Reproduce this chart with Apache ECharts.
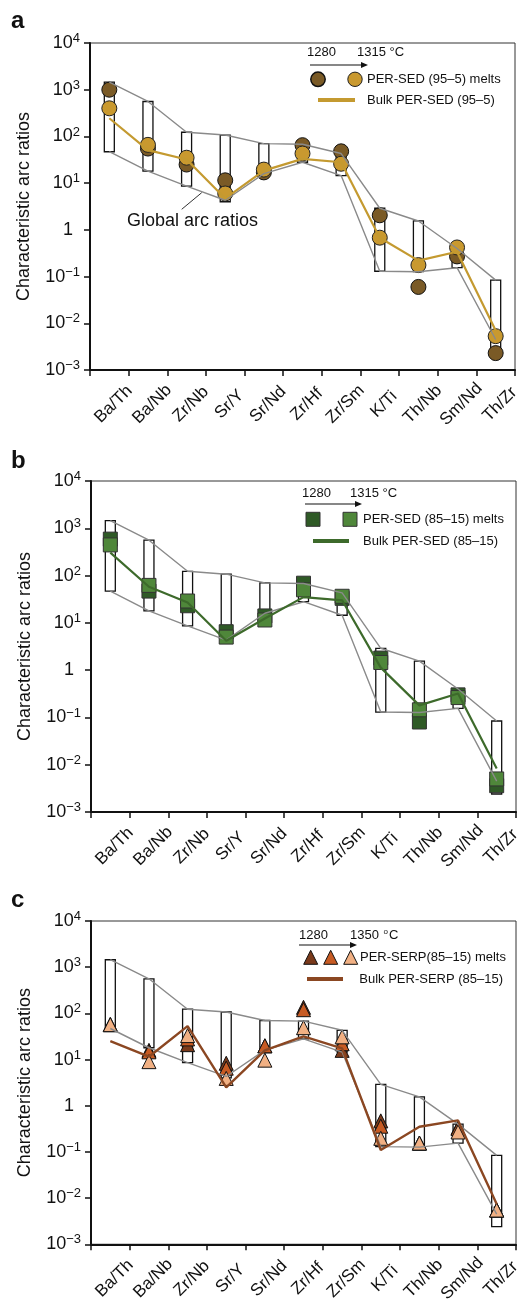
<!DOCTYPE html>
<html>
<head>
<meta charset="utf-8">
<script src="https://cdn.jsdelivr.net/npm/echarts@6/dist/echarts.min.js"></script>
<style>
html,body{margin:0;padding:0;background:#fff;}
#chart{width:528px;height:1305px;}
</style>
</head>
<body>
<div id="chart"></div>
<script>
// ---------- data ----------
const categories = ['Ba/Th','Ba/Nb','Zr/Nb','Sr/Y','Sr/Nd','Zr/Hf','Zr/Sm','K/Ti','Th/Nb','Sm/Nd','Th/Zr'];
const yTickValues = [0.001, 0.01, 0.1, 1, 10, 100, 1000, 10000];

// global arc ratio ranges (boxes) and envelope lines
const arcHigh = [1450, 560, 123, 107, 70, 68, 43, 2.9, 1.55, 0.4, 0.084];
const arcLow  = [47, 18, 8.6, 4.0, 16, 28, 14.5, 0.13, 0.127, 0.155, 0.0024];
const envLow  = [47, 18, 8.6, 4.3, 16, 28, 14.5, 0.13, 0.127, 0.155, 0.0045];

// panel a: PER-SED (95-5)
const sed95Melt1280 = [1000, 55, 25, 11.5, 17, 65, 48, 2.05, 0.06, 0.27, 0.0023];
const sed95Melt1315 = [400, 66, 35, 6.0, 19.5, 43, 26, 0.68, 0.176, 0.42, 0.0053];
const sed95Bulk     = [245, 51, 32, 4.7, 18.5, 33, 28, 0.68, 0.22, 0.34, 0.007];

// panel b: PER-SED (85-15)
const sed85Melt1280 = [590, 47, 23, 6.5, 14, 69, 33, 1.8, 0.08, 0.3, 0.0036];
const sed85Melt1315 = [445, 62, 29, 5.0, 11.5, 50, 36.5, 1.45, 0.145, 0.263, 0.005];
const sed85Bulk     = [305, 58, 27, 4.2, 12.4, 35, 30, 1.13, 0.18, 0.32, 0.0083];

// panel c: PER-SERP (85-15)
const serpMelt1280 = [57, 15.8, 21, 8.3, 19.8, 135, 15.8, 0.47, 0.155, 0.335, 0.0055];
const serpMeltMid  = [57, 14.7, 28, 6.5, 19.8, 120, 22, 0.36, 0.155, 0.32, 0.0055];
const serpMelt1350 = [57, 9.0, 33, 3.9, 9.7, 49, 31, 0.197, 0.155, 0.27, 0.0055];
const serpBulk     = [25, 11.5, 53, 2.5, 15.8, 31.6, 17.4, 0.11, 0.35, 0.48, 0.0074];

// ---------- styling ----------
const FONT = '"Liberation Sans", Arial, Helvetica, sans-serif';
const grids = [
  {left: 90, top: 43, width: 425, height: 327},
  {left: 91, top: 481, width: 425, height: 331},
  {left: 91, top: 921, width: 425, height: 327}
];

function yFmt(v) {
  const e = Math.round(Math.log10(v));
  if (e === 0) return '1{pad| }';
  return '10{sup|' + (e < 0 ? '\u2212' + (-e) : e) + '}';
}

const xAxes = grids.map((g, i) => ({
  gridIndex: i, type: 'category', data: categories,
  axisLine: {lineStyle: {color: '#111', width: 2}},
  axisTick: {show: true, length: 6, lineStyle: {color: '#111', width: 1.5}},
  axisLabel: {interval: 0, rotate: 45, align: 'center', verticalAlign: 'middle',
    margin: 30, fontSize: 17, color: '#111', fontFamily: FONT,
    formatter: function (v) { return '{l|' + v + '}'; },
    rich: {l: {fontSize: 17, color: '#111', fontFamily: FONT, padding: [12, 0, 0, 0]}}},
  splitLine: {show: false}
}));

const yAxes = grids.map((g, i) => ({
  gridIndex: i, type: 'log', logBase: 10, min: yTickValues[0], max: yTickValues[yTickValues.length - 1],
  interval: 1, splitNumber: 7,
  name: 'Characteristic arc ratios', nameLocation: 'middle', nameGap: 57,
  nameTextStyle: {fontSize: 18, color: '#111', fontFamily: FONT},
  axisLine: {show: true, lineStyle: {color: '#111', width: 2}},
  axisTick: {show: true, length: 6, lineStyle: {color: '#111', width: 1.5}},
  minorTick: {show: false},
  splitLine: {show: false},
  axisLabel: {formatter: yFmt, margin: 10, fontSize: 18, lineHeight: 20, color: '#111', fontFamily: FONT,
    rich: {
      sup: {fontSize: 13, lineHeight: 13, padding: [0, 0, 9, 0], color: '#111', fontFamily: FONT},
      pad: {fontSize: 18, width: 7}
    }}
}));

const gridOpts = grids.map(g => Object.assign({show: true, borderColor: '#333', borderWidth: 1, containLabel: false}, g));

function pairs(arr) { return arr.map((v, i) => [categories[i], v]); }

function baseSeries(i) {
  return [
    {type: 'line', xAxisIndex: i, yAxisIndex: i, data: pairs(arcHigh), symbol: 'none',
     lineStyle: {color: '#8a8a8a', width: 1.4}, silent: true},
    {type: 'line', xAxisIndex: i, yAxisIndex: i, data: pairs(envLow), symbol: 'none',
     lineStyle: {color: '#8a8a8a', width: 1.4}, silent: true},
    {type: 'custom', xAxisIndex: i, yAxisIndex: i,
     data: categories.map((c, k) => [k, arcLow[k], arcHigh[k]]),
     encode: {x: 0, y: [1, 2]},
     renderItem: function (params, api) {
       const x = api.value(0);
       const top = api.coord([x, api.value(2)]);
       const bot = api.coord([x, api.value(1)]);
       return {type: 'rect', shape: {x: top[0] - 5, y: top[1], width: 10, height: bot[1] - top[1]},
         style: {fill: '#fff', stroke: '#111', lineWidth: 1.3}};
     }}
  ];
}

function bulk(i, arr, color, w) {
  return {type: 'line', xAxisIndex: i, yAxisIndex: i, data: pairs(arr), symbol: 'none',
    lineStyle: {color: color, width: w}};
}
function melt(i, arr, symbol, size, fill, border) {
  return {type: 'scatter', xAxisIndex: i, yAxisIndex: i, data: pairs(arr), symbol: symbol,
    symbolSize: size, itemStyle: {color: fill, borderColor: border, borderWidth: 1, opacity: 1}};
}

const C = {
  aDark: '#7a5a26', aLight: '#c9992f', aLine: '#c49a30',
  bDark: '#2f5a26', bLight: '#4f873a', bLine: '#3d6a2b',
  cDark: '#7a3a1b', cMid: '#c75b23', cLight: '#f1b083', cLine: '#8b4722'
};

const series = [].concat(
  baseSeries(0),
  [bulk(0, sed95Bulk, C.aLine, 2.2),
   melt(0, sed95Melt1280, 'circle', 15, C.aDark, '#111'),
   melt(0, sed95Melt1315, 'circle', 15, C.aLight, '#222')],
  baseSeries(1),
  [bulk(1, sed85Bulk, C.bLine, 2.2),
   melt(1, sed85Melt1280, 'rect', 14, C.bDark, '#333'),
   melt(1, sed85Melt1315, 'rect', 14, C.bLight, '#333')],
  baseSeries(2),
  [bulk(2, serpBulk, C.cLine, 2.4),
   melt(2, serpMelt1280, 'triangle', 14, C.cDark, '#111'),
   melt(2, serpMeltMid, 'triangle', 14, C.cMid, '#111'),
   melt(2, serpMelt1350, 'triangle', 14, C.cLight, '#111')]
);

// ---------- annotations / legends ----------
function txt(x, y, s, size, extra) {
  return {type: 'text', x: x, y: y, z: 100,
    style: Object.assign({text: s, fontSize: size, fontFamily: FONT, fill: '#111',
      verticalAlign: 'middle', align: 'left'}, extra || {})};
}
function lineG(x1, y1, x2, y2, color, w) {
  return {type: 'line', z: 100, shape: {x1: x1, y1: y1, x2: x2, y2: y2}, style: {stroke: color, lineWidth: w}};
}
function arrowHead(x, y) {
  return {type: 'polygon', z: 100, shape: {points: [[x, y], [x - 7, y - 3], [x - 7, y + 3]]}, style: {fill: '#111'}};
}
function tri(cx, cy, fill) {
  return {type: 'polygon', z: 100, shape: {points: [[cx, cy - 7], [cx + 7, cy + 7], [cx - 7, cy + 7]]},
    style: {fill: fill, stroke: '#111', lineWidth: 1}};
}

const graphics = [
  // panel labels
  txt(11, 21.5, 'a', 24, {fontWeight: 'bold'}),
  txt(11, 461.5, 'b', 24, {fontWeight: 'bold'}),
  txt(11, 900.5, 'c', 24, {fontWeight: 'bold'}),
  // panel a annotation
  txt(127, 220.7, 'Global arc ratios', 18),
  lineG(181.7, 209.3, 201.7, 192.7, '#333', 1),
  // panel a legend
  txt(307, 52.7, '1280', 13),
  txt(357, 52.7, '1315 \u00b0C', 13),
  lineG(310, 65, 362, 65, '#111', 1.2), arrowHead(368, 65),
  {type: 'circle', z: 100, shape: {cx: 318, cy: 79.3, r: 7.2}, style: {fill: C.aDark, stroke: '#111', lineWidth: 1.5}},
  {type: 'circle', z: 100, shape: {cx: 355, cy: 79.3, r: 7.2}, style: {fill: C.aLight, stroke: '#222', lineWidth: 1}},
  txt(367, 79.3, 'PER-SED (95\u20135) melts', 13),
  lineG(318, 100, 355, 100, C.aLine, 4),
  txt(367, 100, 'Bulk PER-SED (95\u20135)', 13),
  // panel b legend
  txt(302, 493.3, '1280', 13),
  txt(350, 493.3, '1315 \u00b0C', 13),
  lineG(305, 504, 356, 504, '#111', 1.2), arrowHead(362, 504),
  {type: 'rect', z: 100, shape: {x: 306, y: 512.3, width: 14, height: 14}, style: {fill: C.bDark, stroke: '#333', lineWidth: 1}},
  {type: 'rect', z: 100, shape: {x: 343, y: 512.3, width: 14, height: 14}, style: {fill: C.bLight, stroke: '#333', lineWidth: 1}},
  txt(363, 519.3, 'PER-SED (85\u201315) melts', 13),
  lineG(313, 541, 349, 541, C.bLine, 4),
  txt(363, 541, 'Bulk PER-SED (85\u201315)', 13),
  // panel c legend
  txt(299, 935, '1280', 13),
  {type: 'text', x: 350, y: 935, z: 100, style: {text: '1350 {s|o}C', fontSize: 13, fontFamily: FONT, fill: '#111',
    verticalAlign: 'middle', align: 'left',
    rich: {s: {fontSize: 8, fontFamily: FONT, fill: '#111', padding: [0, 1, 7, 1]}}}},
  lineG(299, 945, 351, 945, '#111', 1.2), arrowHead(357, 945),
  tri(310.7, 957.3, C.cDark), tri(330.7, 957.3, C.cMid), tri(350.7, 957.3, C.cLight),
  txt(360, 957.3, 'PER-SERP(85\u201315) melts', 13),
  lineG(307, 979, 343, 979, C.cLine, 4),
  txt(359.3, 979, 'Bulk PER-SERP (85\u201315)', 13)
];

const chart = echarts.init(document.getElementById('chart'), null, {renderer: 'canvas'});
chart.setOption({
  animation: false,
  backgroundColor: '#fff',
  textStyle: {fontFamily: FONT},
  grid: gridOpts,
  xAxis: xAxes,
  yAxis: yAxes,
  series: series,
  graphic: graphics
});
</script>
</body>
</html>
